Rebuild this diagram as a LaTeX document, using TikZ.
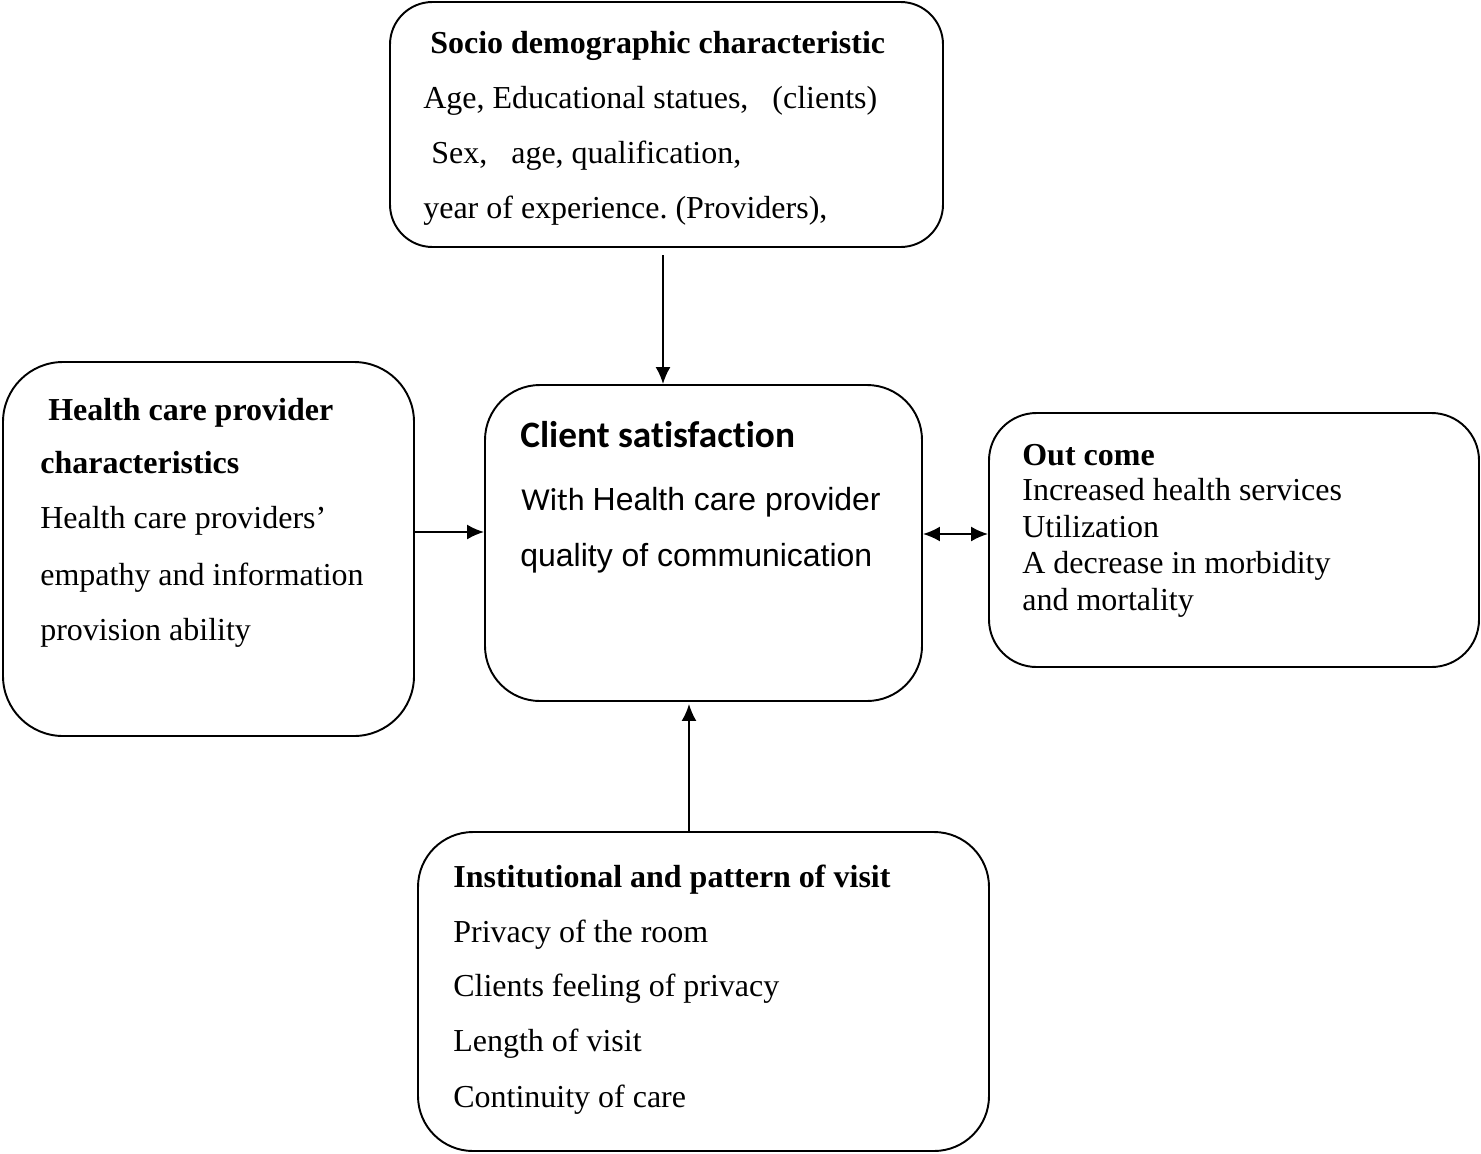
\documentclass[tikz,border=0pt]{standalone}
\usepackage{fontspec}
\setmainfont{Liberation Serif}
\newfontfamily\calibri[Ligatures = NoCommon]{Carlito}
\newfontfamily\arial{Liberation Sans}
\frenchspacing
\usetikzlibrary{arrows.meta}
\tikzset{
  box/.style = {draw = black, line width = 1.1pt, inner sep = 0pt},
  txt/.style = {anchor = base west, inner sep = 0pt, font = \fontsize{18.2}{22}\selectfont},
  arr/.style = {line width = 1.1pt, -{Latex[length = 0.34cm, width = 0.3cm]}}
}
\begin{document}
\begin{tikzpicture}
\useasboundingbox (0,0) rectangle (29.62,-23.06);
\node[box, rounded corners = 0.85cm, minimum width = 11.06cm, minimum height = 4.9cm] (socio) at (13.33,-2.49) {};
\node[box, rounded corners = 1.2cm, minimum width = 8.22cm, minimum height = 7.48cm] (provider) at (4.17,-10.98) {};
\node[box, rounded corners = 1.1cm, minimum width = 8.74cm, minimum height = 6.32cm] (satisfaction) at (14.07,-10.86) {};
\node[box, rounded corners = 0.95cm, minimum width = 9.8cm, minimum height = 5.08cm] (outcome) at (24.68,-10.8) {};
\node[box, rounded corners = 1.1cm, minimum width = 11.42cm, minimum height = 6.38cm] (institution) at (14.07,-19.83) {};

\node[txt, font = \fontsize{18.2}{22}\selectfont\bfseries] (socio1) at (8.6,-1.06) {Socio demographic characteristic};
\node[txt] (socio2) at (8.46,-2.16) {Age, Educational statues,\ \ \ (clients)};
\node[txt] (socio3) at (8.62,-3.26) {Sex,\ \ \ age, qualification,};
\node[txt] (socio4) at (8.46,-4.36) {year of experience. (Providers),};

\node[txt, font = \fontsize{18.2}{22}\selectfont\bfseries] (provider1) at (0.96,-8.4) {Health care provider};
\node[txt, font = \fontsize{18.2}{22}\selectfont\bfseries] (provider2) at (0.8,-9.46) {characteristics};
\node[txt] (provider3) at (0.8,-10.56) {Health care providers’};
\node[txt] (provider4) at (0.8,-11.7) {empathy and information};
\node[txt] (provider5) at (0.8,-12.8) {provision ability};

\node[txt, font = \fontsize{21.2}{25}\calibri\bfseries] (satisfaction1) at (10.4,-8.94) {Client satisfaction};
\node[txt] (satisfaction2) at (10.42,-10.2) {{\calibri With} {\arial Health care provider}};
\node[txt, font = \fontsize{18.2}{22}\arial] (satisfaction3) at (10.4,-11.32) {quality of communication};

\node[txt, font = \fontsize{18.2}{22}\selectfont\bfseries] (outcome1) at (20.44,-9.3) {Out come};
\node[txt] (outcome2) at (20.44,-10) {Increased health services};
\node[txt] (outcome3) at (20.44,-10.74) {Utilization};
\node[txt] (outcome4) at (20.44,-11.47) {A decrease in morbidity};
\node[txt] (outcome5) at (20.44,-12.2) {and mortality};

\node[txt, font = \fontsize{18.2}{22}\selectfont\bfseries] (institution1) at (9.06,-17.74) {Institutional and pattern of visit};
\node[txt] (institution2) at (9.06,-18.84) {Privacy of the room};
\node[txt] (institution3) at (9.06,-19.92) {Clients feeling of privacy};
\node[txt] (institution4) at (9.06,-21.02) {Length of visit};
\node[txt] (institution5) at (9.06,-22.14) {Continuity of care};

\coordinate (toparrow) at (13.26,-5.1);
\coordinate (leftarrow) at (0,-10.64);
\coordinate (rightarrow) at (0,-10.68);
\coordinate (bottomarrow) at (13.78,0);
\draw[arr] (toparrow) -- (toparrow |- satisfaction.north);
\draw[arr] (provider.east |- leftarrow) -- (satisfaction.west |- leftarrow);
\draw[arr, {Latex[length = 0.34cm, width = 0.3cm]}-{Latex[length = 0.34cm, width = 0.3cm]}] (satisfaction.east |- rightarrow) -- (outcome.west |- rightarrow);
\draw[arr] (institution.north -| bottomarrow) -- ([yshift = -0.04cm]satisfaction.south -| bottomarrow);
\end{tikzpicture}
\end{document}
